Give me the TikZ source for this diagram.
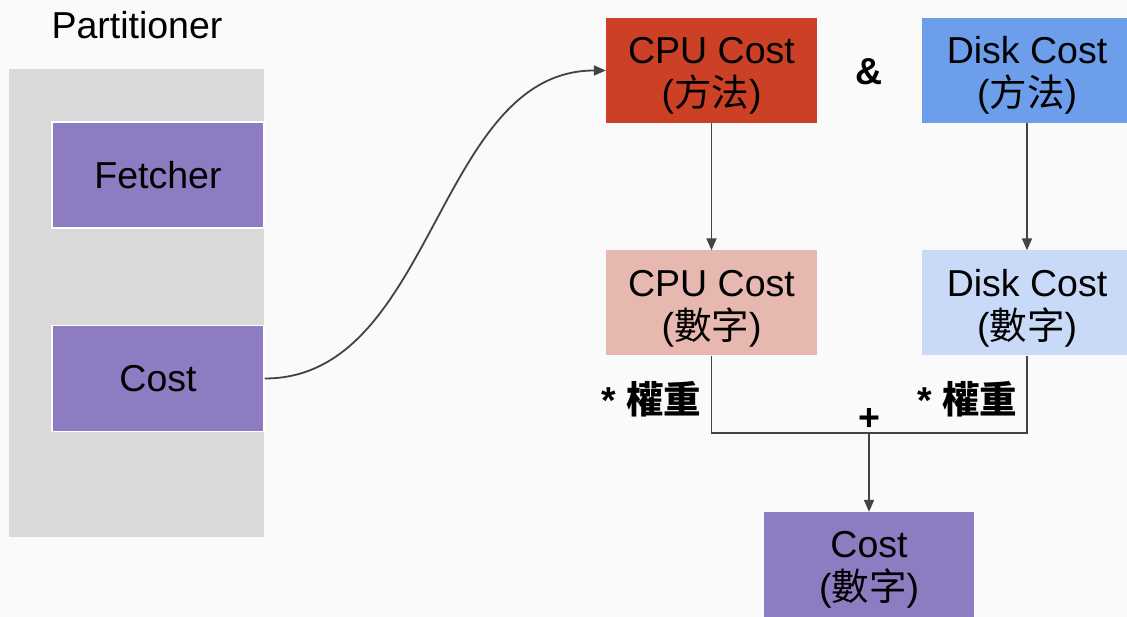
\documentclass[tikz,border=0pt]{standalone}
\usepackage{fontspec}
\setmainfont{Liberation Sans}
\newfontfamily\cjk{Noto Sans CJK TC}
\usetikzlibrary{arrows.meta}
\definecolor{bg}{HTML}{FAFAFA}
\definecolor{panel}{HTML}{D9D9D9}
\definecolor{purplebox}{HTML}{8E7CC3}
\definecolor{redbox}{HTML}{CC4125}
\definecolor{bluebox}{HTML}{6D9EEB}
\definecolor{lightred}{HTML}{E6B8AF}
\definecolor{lightblue}{HTML}{C9DAF8}
\definecolor{wire}{HTML}{434343}
% tall strut on the first line pushes two-line labels a little lower
\newcommand\firststrut{\rule{0pt}{37pt}}
\begin{document}
\begin{tikzpicture}[x=1pt,y=-1pt,
  txt/.style={font=\fontsize{37.5}{43}\selectfont, align=center},
  plainbox/.style={txt, rectangle, inner sep=0pt, minimum width=211pt, minimum height=105pt},
  costbox/.style={plainbox},
  partbox/.style={plainbox, minimum width=212pt, minimum height=106pt, fill=purplebox, draw=white, line width=1.5pt},
  boldlabel/.style={font=\fontsize{37.5}{43}\selectfont\bfseries, inner sep=0pt},
  wireline/.style={draw=wire, line width=1.8pt},
  arrowline/.style={wireline, -{Triangle[length=12pt,width=10pt]}}
]
\fill[bg] (0,0) rectangle (1127,617);
\useasboundingbox (0,0) rectangle (1127,617);

% Partitioner panel with its two components
\node[txt, inner sep=0pt, anchor=base] (parttitle) at (137,38.5) {Partitioner};
\fill[panel] (9,69) rectangle (264,537);
\node[partbox] (fetcher) at (158,175) {Fetcher};
\node[partbox] (cost) at (158,378.5) {Cost};

% Cost methods
\node[costbox, fill=redbox] (cpum) at (711.5,70.5) {\firststrut CPU Cost\\{(}{\cjk 方法}{)}};
\node[costbox, fill=bluebox] (diskm) at (1027,70.5) {\firststrut Disk Cost\\{(}{\cjk 方法}{)}};
\node[boldlabel] (amp) at (869,72) {\&};

% Numeric costs
\node[costbox, fill=lightred] (cpun) at (711.5,303) {\firststrut CPU Cost\\{(}{\cjk 數字}{)}};
\node[costbox, fill=lightblue] (diskn) at (1027,303) {\firststrut Disk Cost\\{(}{\cjk 數字}{)}};

% Combined cost
\node[costbox, fill=purplebox, minimum width=210pt] (total) at (869,564.5) {\firststrut Cost\\{(}{\cjk 數字}{)}};

% Weight and sum labels
\node[boldlabel] (wcpu) at (651,399) {* {\cjk\bfseries 權重}};
\node[boldlabel] (wdisk) at (967,399) {* {\cjk\bfseries 權重}};
\node[boldlabel] (plus) at (869,420) {+};

% Connectors
\draw[arrowline] (cost.east) .. controls +(170,0) and +(-170,0) .. (cpum.west);
\draw[arrowline] (cpum.south) -- (cpun.north);
\draw[arrowline] (diskm.south) -- (diskn.north);
\coordinate (join) at (869,433);
\draw[wireline] (cpun.south) |- (join) -| (diskn.south);
\draw[arrowline] (join) -- (total.north);
\end{tikzpicture}
\end{document}
